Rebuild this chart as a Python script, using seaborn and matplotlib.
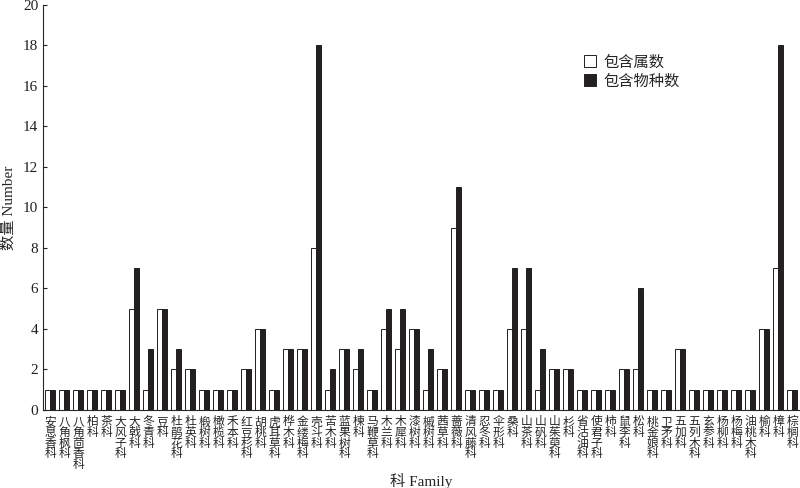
import matplotlib
matplotlib.use("Agg")
import matplotlib.pyplot as plt
import seaborn as sns
import pandas as pd

families = ["安息香科", "八角枫科", "八角茴香科", "柏科", "茶科", "大风子科", "大戟科", "冬青科",
            "豆科", "杜鹃花科", "杜英科", "椴树科", "橄榄科", "禾本科", "红豆杉科", "胡桃科",
            "虎耳草科", "桦木科", "金缕梅科", "壳斗科", "苦木科", "蓝果树科", "楝科", "马鞭草科",
            "木兰科", "木犀科", "漆树科", "槭树科", "茜草科", "蔷薇科", "清风藤科", "忍冬科",
            "伞形科", "桑科", "山茶科", "山矾科", "山茱萸科", "杉科", "省沽油科", "使君子科",
            "柿科", "鼠李科", "松科", "桃金娘科", "卫矛科", "五加科", "五列木科", "玄参科",
            "杨柳科", "杨梅科", "油桃木科", "榆科", "樟科", "棕榈科"]
genera = [1, 1, 1, 1, 1, 1, 5, 1, 5, 2, 2, 1, 1, 1, 2, 4, 1, 3, 3, 8, 1, 3, 2, 1,
          4, 3, 4, 1, 2, 9, 1, 1, 1, 4, 4, 1, 2, 2, 1, 1, 1, 2, 2, 1, 1, 3, 1, 1,
          1, 1, 1, 4, 7, 1]
species = [1, 1, 1, 1, 1, 1, 7, 3, 5, 3, 2, 1, 1, 1, 2, 4, 1, 3, 3, 18, 2, 3, 3, 1,
           5, 5, 4, 3, 2, 11, 1, 1, 1, 7, 7, 3, 2, 2, 1, 1, 1, 2, 6, 1, 1, 3, 1, 1,
           1, 1, 1, 4, 18, 1]
series = ["包含属数", "包含物种数"]

df = pd.DataFrame({"family": families * 2,
                   "count": genera + species,
                   "series": [series[0]] * len(families) + [series[1]] * len(families)})

sns.set_style("ticks")
plt.rcParams["font.family"] = ["Liberation Serif", "Noto Sans CJK SC"]

fig = plt.figure(figsize=(8, 4.88), dpi=100)
ax = fig.add_axes([0.054, 0.16, 0.945, 0.83])

sns.barplot(data=df, x="family", y="count", hue="series", order=families,
            palette=["white", "#231f20"], edgecolor="#231f20", linewidth=0.7,
            width=0.68, gap=0, ax=ax)

ax.set_xlim(-0.5, len(families) - 0.5)
ax.set_ylim(0, 20)
ax.set_yticks(range(0, 21, 2))
ax.tick_params(axis="y", direction="in", length=3, labelsize=11, colors="#231f20")
ax.tick_params(axis="x", length=0, pad=4)
ax.set_xticks(range(len(families)))
ax.set_xticklabels(["\n".join(f) for f in families], fontsize=8.5, linespacing=0.76,
                   va="top", family=["Noto Sans CJK SC"])
sns.despine(ax=ax)
ax.spines["left"].set_linewidth(0.8)
ax.spines["bottom"].set_linewidth(0.8)

ax.set_ylabel("数量 Number", fontsize=11)
ax.yaxis.set_label_coords(-0.036, 0.5)
ax.set_xlabel("科 Family", fontsize=11, va="center")
ax.xaxis.set_label_coords(0.5, -0.175)

leg = ax.legend(loc="upper left", bbox_to_anchor=(0.697, 0.91), frameon=False,
                fontsize=11, handlelength=0.8, handleheight=0.8, handletextpad=0.5,
                labelspacing=0.3)

fig.savefig("out.png", dpi=100)
